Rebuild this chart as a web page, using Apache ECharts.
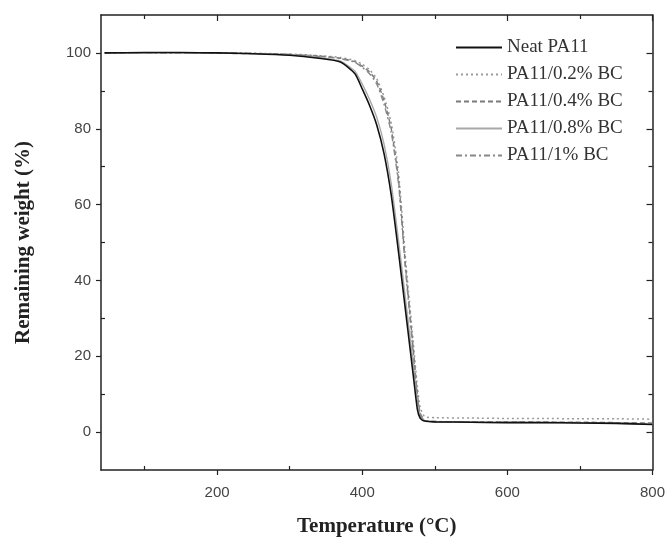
<!DOCTYPE html>
<html>
<head>
<meta charset="utf-8">
<script src="https://cdn.jsdelivr.net/npm/echarts@6/dist/echarts.min.js"></script>
<style>
  html, body { margin: 0; padding: 0; background: #fff; }
  #main { width: 668px; height: 542px; }
</style>
</head>
<body>
<div id="main"></div>
<script>
// temperature points (°C) shared by every curve
var temps = [45, 100, 150, 200, 250, 300, 340, 370, 390, 400, 410, 420, 430, 440, 450, 460, 470, 476, 480, 486, 500, 550, 600, 650, 700, 750, 800];

// remaining weight (%)
var neat = [100, 100.1, 100.1, 100, 99.8, 99.4, 98.6, 97.6, 94.5, 90.5, 86.2, 81.0, 73.5, 62.5, 47.5, 31.5, 15.5, 6.0, 3.6, 2.9, 2.7, 2.6, 2.5, 2.5, 2.4, 2.3, 2.0];
var bc02 = [100, 100, 100, 100, 99.9, 99.7, 99.3, 98.8, 98.0, 97.0, 95.6, 93.2, 88.5, 81.5, 68.5, 45.0, 24.5, 12.0, 6.5, 4.1, 3.8, 3.7, 3.6, 3.6, 3.5, 3.5, 3.4];
var bc04 = [100, 100, 100, 99.9, 99.8, 99.6, 99.2, 98.6, 97.7, 96.5, 95.0, 92.5, 87.5, 80.0, 66.5, 43.0, 22.5, 10.0, 5.0, 3.1, 2.8, 2.7, 2.7, 2.6, 2.6, 2.5, 2.4];
var bc08 = [100, 100, 100, 100, 99.8, 99.5, 98.8, 97.8, 95.2, 91.8, 87.8, 83.0, 76.0, 65.5, 50.5, 34.5, 18.5, 8.5, 4.2, 3.0, 2.7, 2.6, 2.5, 2.5, 2.4, 2.3, 2.1];
var bc1  = [100, 100, 100, 100, 99.9, 99.6, 99.1, 98.5, 97.5, 96.2, 94.5, 91.8, 86.5, 79.0, 65.5, 42.0, 21.5, 9.5, 4.7, 3.0, 2.8, 2.7, 2.6, 2.6, 2.5, 2.4, 2.2];

var seriesNames = ['Neat PA11', 'PA11/0.2% BC', 'PA11/0.4% BC', 'PA11/0.8% BC', 'PA11/1% BC'];

// tick positions
var xMajor = [200, 400, 600, 800];
var xMinor = [100, 300, 500, 700];
var yMajor = [0, 20, 40, 60, 80, 100];
var yMinor = [10, 30, 50, 70, 90];

var myChart = echarts.init(document.getElementById('main'));

function pairs(vals) {
	return temps.map(function (t, i) { return [t, vals[i]]; });
}

var lineCol = '#222';
var serif = '"Liberation Serif", "DejaVu Serif", serif';
var sans = '"Liberation Sans", Arial, sans-serif';

function xAx(pos, ticks, inside, len, showLine, extra) {
	var ax = {
		type: 'value', position: pos, min: 40, max: 800,
		axisLine: { show: showLine, onZero: false, lineStyle: { color: lineCol, width: 1.5 } },
		axisTick: { show: true, inside: inside, length: len, customValues: ticks, lineStyle: { color: lineCol, width: 1.2 } },
		axisLabel: { show: false },
		splitLine: { show: false }
	};
	return Object.assign(ax, extra || {});
}
function yAx(pos, ticks, inside, len, showLine, extra) {
	var ax = {
		type: 'value', position: pos, min: -10, max: 110,
		axisLine: { show: showLine, onZero: false, lineStyle: { color: lineCol, width: 1.5 } },
		axisTick: { show: true, inside: inside, length: len, customValues: ticks, lineStyle: { color: lineCol, width: 1.2 } },
		axisLabel: { show: false },
		splitLine: { show: false }
	};
	return Object.assign(ax, extra || {});
}

function line(name, vals, color, width, type, z) {
	return {
		name: name, type: 'line', symbol: 'none', showSymbol: false,
		smooth: 0.2,
		data: pairs(vals),
		lineStyle: { color: color, width: width, type: type },
		itemStyle: { color: color },
		z: z || 2
	};
}

var option = {
	animation: false,
	backgroundColor: '#fff',
	grid: { left: 101, right: 15, top: 15, bottom: 72 },
	legend: {
		orient: 'vertical',
		left: 455, top: 38,
		padding: 0,
		itemWidth: 46, itemHeight: 14, itemGap: 8,
		itemStyle: { opacity: 0 },
		textStyle: { fontFamily: serif, fontSize: 19, color: '#333', lineHeight: 19 },
		data: seriesNames
	},
	xAxis: [
		xAx('bottom', xMajor, false, 5, true, {
			name: 'Temperature (°C)', nameLocation: 'middle', nameGap: 46,
			nameTextStyle: { fontFamily: serif, fontWeight: 'bold', fontSize: 21, color: '#222' },
			axisLabel: { show: true, customValues: xMajor, margin: 15, fontFamily: sans, fontSize: 15, color: '#444' }
		}),
		xAx('bottom', xMinor, true, 4, false),
		xAx('top', xMajor, true, 6, true),
		xAx('top', xMinor, true, 4, false)
	],
	yAxis: [
		yAx('left', yMajor, false, 5, true, {
			name: 'Remaining weight (%)', nameLocation: 'middle', nameGap: 67,
			nameTextStyle: { fontFamily: serif, fontWeight: 'bold', fontSize: 21, color: '#222' },
			axisLabel: { show: true, customValues: yMajor, margin: 10, fontFamily: sans, fontSize: 15, color: '#444' }
		}),
		yAx('left', yMinor, true, 4, false),
		yAx('right', yMajor, true, 6, true),
		yAx('right', yMinor, true, 4, false)
	],
	series: [
		line(seriesNames[0], neat, '#111', 1.6, 'solid', 5),
		line(seriesNames[1], bc02, '#9a9a9a', 1.5, [2, 3]),
		line(seriesNames[2], bc04, '#7a7a7a', 1.4, [5, 3]),
		line(seriesNames[3], bc08, '#a8a8a8', 1.4, 'solid'),
		line(seriesNames[4], bc1, '#888', 1.4, [6, 3, 2, 3])
	]
};

myChart.setOption(option);
</script>
</body>
</html>
